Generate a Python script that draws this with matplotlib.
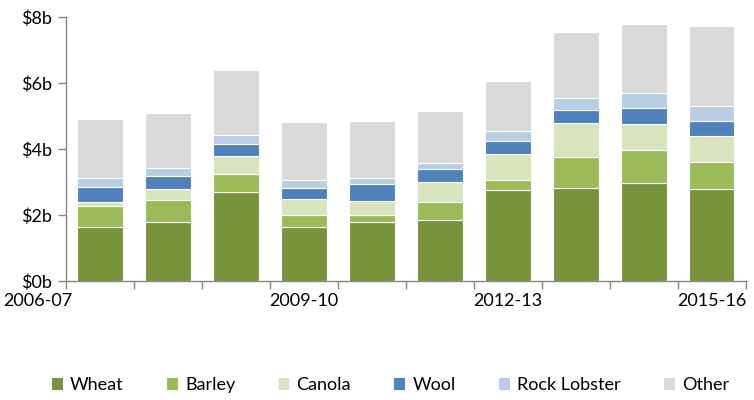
import matplotlib
matplotlib.use("Agg")
import matplotlib.pyplot as plt
import numpy as np
from matplotlib.patches import Patch

years = ["2006-07", "2007-08", "2008-09", "2009-10", "2010-11",
         "2011-12", "2012-13", "2013-14", "2014-15", "2015-16"]
labelled = ["2006-07", "2009-10", "2012-13", "2015-16"]

wheat = [1.65, 1.78, 2.70, 1.65, 1.80, 1.86, 2.75, 2.81, 2.97, 2.78]
barley = [0.63, 0.68, 0.54, 0.36, 0.21, 0.53, 0.32, 0.96, 1.00, 0.84]
canola = [0.11, 0.32, 0.54, 0.46, 0.42, 0.62, 0.79, 1.01, 0.80, 0.77]
wool = [0.46, 0.41, 0.38, 0.35, 0.50, 0.38, 0.38, 0.41, 0.46, 0.47]
rock_lobster = [0.28, 0.24, 0.27, 0.23, 0.20, 0.19, 0.31, 0.36, 0.47, 0.45]
other = [1.77, 1.65, 1.96, 1.77, 1.73, 1.58, 1.50, 2.00, 2.08, 2.43]

series = ["Wheat", "Barley", "Canola", "Wool", "Rock Lobster", "Other"]
colors = ["#77933C", "#9BBB59", "#D7E4BD", "#4F81BD", "#B9CDE5", "#D9D9D9"]

plt.rcParams["font.family"] = ["Lato", "DejaVu Sans"]
fs = 13

fig = plt.figure(figsize=(7.54, 4.0), dpi=100)
ax = fig.add_axes([0.0875, 0.2975, 0.9015, 0.66])

x = np.arange(len(years))
bottom = np.zeros(len(years))
for name, vals, col in zip(series, [wheat, barley, canola, wool, rock_lobster, other], colors):
    ax.bar(x, vals, width=0.67, bottom=bottom, color=col, edgecolor="white",
           linewidth=0.8, label=name)
    bottom += np.array(vals)

ax.set_xlim(-0.5, len(years) - 0.5)
ax.set_ylim(0, 8)
ax.set_yticks([0, 2, 4, 6, 8])
ax.set_yticklabels(["$0b", "$2b", "$4b", "$6b", "$8b"], fontsize=fs)
ax.set_xticks(np.arange(-0.5, len(years), 1.0))
ax.set_xticklabels([])

for s in ["top", "right"]:
    ax.spines[s].set_visible(False)
for s in ["left", "bottom"]:
    ax.spines[s].set_color("#868686")
    ax.spines[s].set_linewidth(1.0)
ax.tick_params(axis="both", colors="#868686", length=6, width=1.0, labelcolor="black")
ax.tick_params(axis="y", pad=4)

# year labels under every third bar; first one sits left of the axis
label_pos = {"2006-07": -0.92, "2009-10": 3.0, "2012-13": 6.0, "2015-16": 9.0}
for lab in labelled:
    ax.text(label_pos[lab], -0.6, lab, ha="center", va="center", fontsize=fs,
            transform=ax.transData, clip_on=False)

handles = [Patch(facecolor=c, edgecolor="none") for c in colors]
fig.legend(handles, series, loc="center", bbox_to_anchor=(0.518, 0.037), ncol=6,
           frameon=False, fontsize=fs, handlelength=0.6, handleheight=0.7,
           handletextpad=0.4, columnspacing=2.4)

fig.savefig("out.png", dpi=100)
